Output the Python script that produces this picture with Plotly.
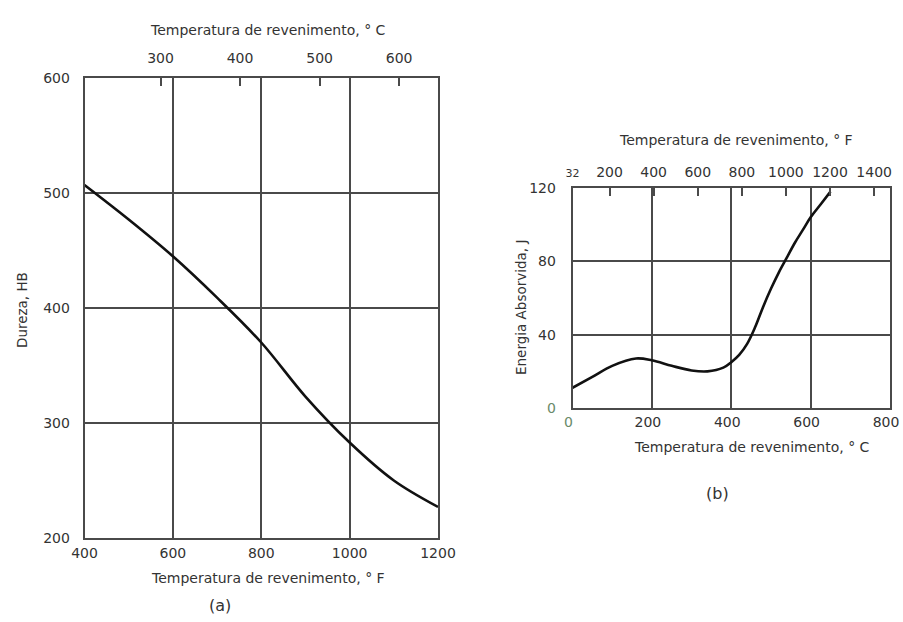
import plotly.graph_objects as go

# ---- data (a): Dureza vs temperatura (°F)
temp_a_F = [400, 500, 600, 700, 800, 900, 1000, 1100, 1200]
dureza_HB = [507, 477, 445, 409, 370, 323, 283, 250, 227]
a_bottom_ticks = [400, 600, 800, 1000, 1200]
a_top_ticks_C = [300, 400, 500, 600]
a_y_ticks = [200, 300, 400, 500, 600]

# ---- data (b): Energia absorvida vs temperatura (°C)
temp_b_C = [0, 50, 100, 160, 200, 250, 300, 340, 380, 400, 420, 440, 460, 480,
            500, 520, 540, 560, 580, 600, 625, 650]
energia_J = [11, 17, 23, 27, 26, 23, 20.5, 20, 22, 25, 29, 35, 44, 55,
             65, 74, 82, 90, 97, 104, 111, 118]
b_bottom_ticks = [0, 200, 400, 600, 800]
b_top_ticks_F = [32, 200, 400, 600, 800, 1000, 1200, 1400]
b_y_ticks = [0, 40, 80, 120]

W, H = 903, 622
FONT = "DejaVu Sans, Liberation Sans, sans-serif"
TXT = "#333333"
LINE = "#4a4a4a"
TICK_SIZE = 14

def px(x):
    return x / W

def py(y):
    return 1 - y / H

# plot boxes in pixel coordinates (left, top, right, bottom)
A = (84.5, 78, 438, 538)
B = (572.5, 188, 890, 408)

f_to_c = lambda f: (f - 32) / 1.8
c_to_f = lambda c: c * 1.8 + 32

fig = go.Figure()
fig.add_trace(go.Scatter(x=temp_a_F, y=dureza_HB, mode="lines",
                         line=dict(color="#111111", width=2.6, shape="spline"),
                         xaxis="x", yaxis="y", showlegend=False, hoverinfo="skip"))
fig.add_trace(go.Scatter(x=temp_b_C, y=energia_J, mode="lines",
                         line=dict(color="#111111", width=2.6, shape="spline"),
                         xaxis="x3", yaxis="y2", showlegend=False, hoverinfo="skip"))
# invisible traces so the secondary (top) axes get drawn
fig.add_trace(go.Scatter(x=[f_to_c(v) for v in temp_a_F], y=dureza_HB, mode="lines",
                         line=dict(width=0), opacity=0, xaxis="x2", yaxis="y",
                         showlegend=False, hoverinfo="skip"))
fig.add_trace(go.Scatter(x=[c_to_f(v) for v in temp_b_C], y=energia_J, mode="lines",
                         line=dict(width=0), opacity=0, xaxis="x4", yaxis="y2",
                         showlegend=False, hoverinfo="skip"))

common = dict(showline=True, linecolor=LINE, linewidth=1.6, gridcolor=LINE, gridwidth=1.5,
              showgrid=True, zeroline=False, ticks="", automargin=False,
              ticklabeloverflow="allow",
              tickfont=dict(family=FONT, size=TICK_SIZE, color=TXT), fixedrange=True)
top = dict(side="top", ticks="inside", ticklen=8, tickwidth=1.5, tickcolor=LINE,
           showgrid=False, showline=False, zeroline=False, automargin=False,
           ticklabeloverflow="allow",
           tickfont=dict(family=FONT, size=TICK_SIZE, color=TXT), fixedrange=True)

b_bottom_text = ['<span style="color:#6a8a6a">0</span>'] + [str(v) for v in b_bottom_ticks[1:]]

fig.update_layout(
    width=W, height=H, margin=dict(l=0, r=0, t=0, b=0),
    paper_bgcolor="white", plot_bgcolor="white",
    font=dict(family=FONT, size=13, color=TXT),
    xaxis=dict(domain=[px(A[0]), px(A[2])], range=[a_bottom_ticks[0], a_bottom_ticks[-1]],
               tickvals=a_bottom_ticks, anchor="y", mirror=True, ticklabelstandoff=1, **common),
    yaxis=dict(domain=[py(A[3]), py(A[1])], range=[a_y_ticks[0], a_y_ticks[-1]],
               tickvals=a_y_ticks, anchor="x", mirror=True, ticklabelstandoff=10, **common),
    xaxis2=dict(overlaying="x", anchor="y",
                range=[f_to_c(a_bottom_ticks[0]), f_to_c(a_bottom_ticks[-1])],
                tickvals=a_top_ticks_C, ticklabelstandoff=11, **top),
    xaxis3=dict(domain=[px(B[0]), px(B[2])], range=[b_bottom_ticks[0], b_bottom_ticks[-1]],
                tickvals=b_bottom_ticks, ticktext=b_bottom_text, ticklabelshift=-4,
                anchor="y2", mirror=True, ticklabelstandoff=0, **common),
    yaxis2=dict(domain=[py(B[3]), py(B[1])], range=[b_y_ticks[0], b_y_ticks[-1]],
                tickvals=b_y_ticks,
                ticktext=['<span style="color:#6a8a6a">0</span>'] + [str(v) for v in b_y_ticks[1:]],
                anchor="x3", mirror=True, ticklabelstandoff=12, **common),
    xaxis4=dict(overlaying="x3", anchor="y2",
                range=[c_to_f(b_bottom_ticks[0]), c_to_f(b_bottom_ticks[-1])],
                tickvals=b_top_ticks_F,
                ticktext=['<span style="font-size:11px">32</span>'] + [str(v) for v in b_top_ticks_F[1:]],
                ticklabelstandoff=7, **top),
)

def ann(text, x, y, size=14, angle=0):
    fig.add_annotation(text=text, x=px(x), y=py(y), xref="paper", yref="paper",
                       showarrow=False, textangle=angle, xanchor="center", yanchor="middle",
                       font=dict(family=FONT, size=size, color=TXT))

ann("Temperatura de revenimento, ° C", 268, 30)
ann("Temperatura de revenimento, ° F", 268, 578)
ann("Dureza, HB", 22, 310, size=13.5, angle=-90)
ann("(a)", 220, 605, size=16)
ann("Temperatura de revenimento, ° F", 736, 140)
ann("Temperatura de revenimento, ° C", 752, 447)
ann("Energia Absorvida, J", 521, 308, size=13.5, angle=-90)
ann("(b)", 717, 493, size=16)

fig.write_html("out.html")
